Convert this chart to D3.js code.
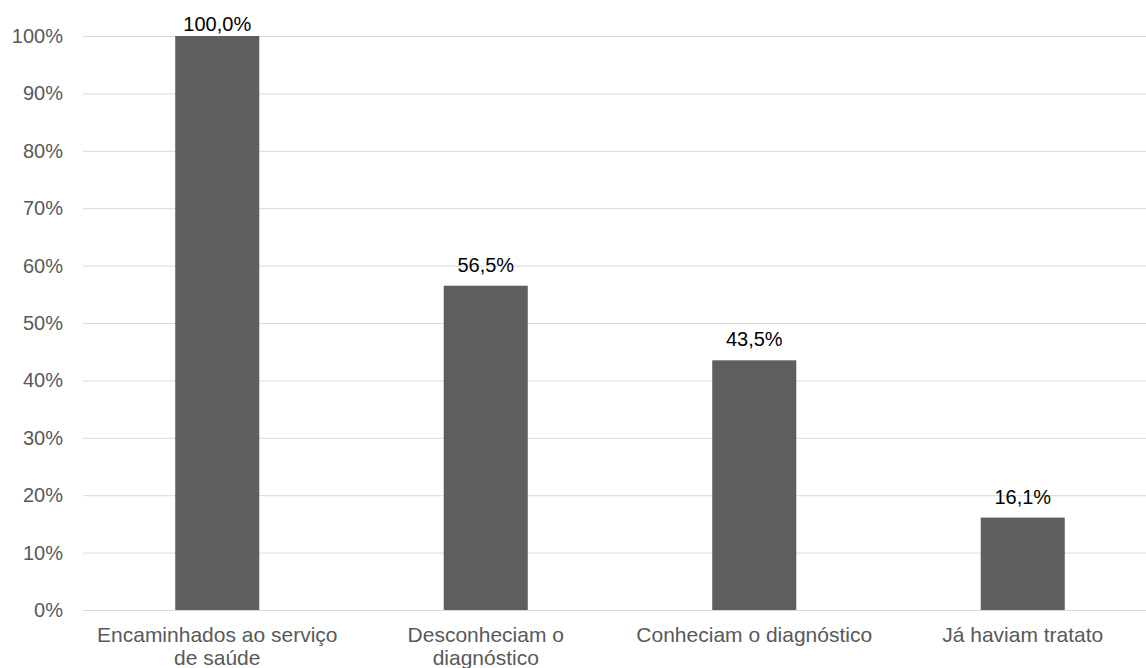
<!DOCTYPE html>
<html>
  <head>
    <meta charset="utf-8">
    <title>Encaminhamentos</title>
    <style>
      body {margin:0; background:#fff;}
      svg {display:block; font-family:"Liberation Sans", Arial, sans-serif;}
      .grid line {stroke:#d9d9d9; stroke-width:1px;}
      .ytick {font-size:20px; fill:#595959;}
      .xlabel {font-size:21px; fill:#595959;}
      .valor {font-size:20px; fill:#000;}
    </style>
    <script src="https://cdn.jsdelivr.net/npm/d3@7"></script>
  </head>
  <body>
    <svg id="chart"></svg>
    <script>
      var categorias = ["Encaminhados ao serviço de saúde", "Desconheciam o diagnóstico", "Conheciam o diagnóstico", "Já haviam tratato"];
      var valores    = [100.0, 56.5, 43.5, 16.1];
      var yTicks     = [0, 10, 20, 30, 40, 50, 60, 70, 80, 90, 100];

      var width  = 1146;
      var height = 668;
      var margin = {top: 36, bottom: 58, left: 83, right: -11};

      var svg = d3.select("#chart").attr("width", width).attr("height", height);

      var x = d3.scaleBand()
                .domain(categorias)
                .range([margin.left, width - margin.right])
                .paddingInner(0.687)
                .paddingOuter(0.3435);

      var y = d3.scaleLinear()
                .domain([0, 100])
                .range([height - margin.bottom, margin.top]);

      // linhas de grade
      svg.append("g")
         .attr("class", "grid")
         .selectAll("line")
         .data(yTicks)
         .enter()
         .append("line")
         .attr("x1", margin.left)
         .attr("x2", width - margin.right)
         .attr("y1", function(d) {return y(d) + 0.5;})
         .attr("y2", function(d) {return y(d) + 0.5;});

      // eixo y (apenas rótulos)
      var yAxis = d3.axisLeft(y)
                    .tickValues(yTicks)
                    .tickSize(0)
                    .tickPadding(20)
                    .tickFormat(function(d) {return d + "%";});
      var gy = svg.append("g")
                  .attr("transform", "translate(" + margin.left + ",0)")
                  .call(yAxis);
      gy.select(".domain").remove();
      gy.selectAll("text")
        .attr("class", "ytick")
        .attr("font-size", null)
        .attr("font-family", null)
        .attr("fill", null);

      // barras
      svg.selectAll("rect.barra")
         .data(valores)
         .enter()
         .append("rect")
         .attr("class", "barra")
         .attr("x", function(d, i) {return x(categorias[i]);})
         .attr("y", function(d) {return y(d);})
         .attr("width", x.bandwidth())
         .attr("height", function(d) {return y(0) - y(d);})
         .style("fill", "#5e5e5e");

      // rótulos de valor
      svg.selectAll("text.valor")
         .data(valores)
         .enter()
         .append("text")
         .attr("class", "valor")
         .attr("text-anchor", "middle")
         .attr("x", function(d, i) {return x(categorias[i]) + x.bandwidth() / 2;})
         .attr("y", function(d) {return Math.max(y(d) - 14, 31);})
         .text(function(d) {return d.toFixed(1).replace(".", ",") + "%";});

      // rótulos das categorias, com quebra de linha
      var maxLargura = 250;
      var rotulos = svg.selectAll("text.xlabel")
                       .data(categorias)
                       .enter()
                       .append("text")
                       .attr("class", "xlabel")
                       .attr("text-anchor", "middle")
                       .attr("y", height - margin.bottom + 32);

      rotulos.each(function(d) {
        var el = d3.select(this);
        var cx = x(d) + x.bandwidth() / 2;
        var palavras = d.split(" ");
        var linha = [];
        var tspan = el.append("tspan").attr("x", cx).attr("dy", 0);
        palavras.forEach(function(p) {
          linha.push(p);
          tspan.text(linha.join(" "));
          if (tspan.node().getComputedTextLength() > maxLargura && linha.length > 1) {
            linha.pop();
            tspan.text(linha.join(" "));
            linha = [p];
            tspan = el.append("tspan").attr("x", cx).attr("dy", "23px").text(p);
          }
        });
      });
    </script>
  </body>
</html>
